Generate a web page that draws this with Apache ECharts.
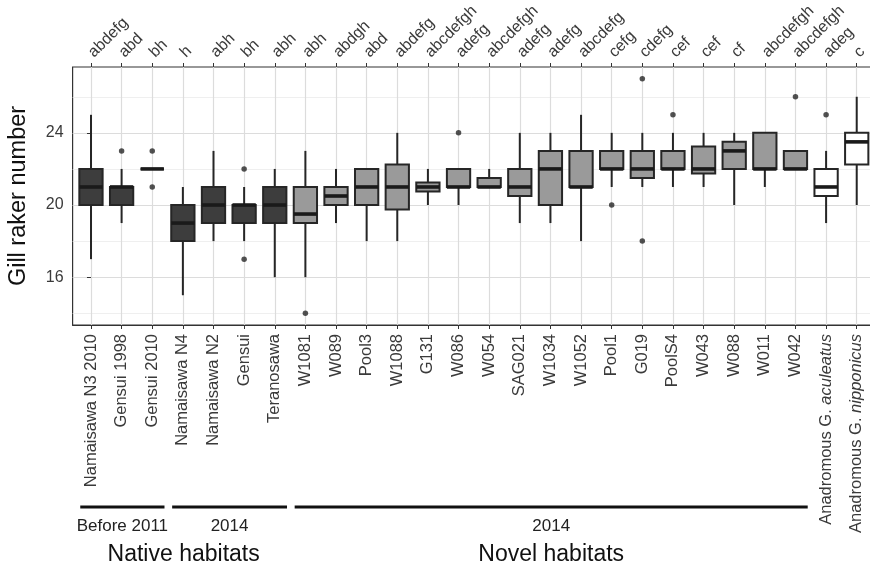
<!DOCTYPE html>
<html>
<head>
<meta charset="utf-8">
<script src="https://cdn.jsdelivr.net/npm/echarts@6/dist/echarts.min.js"></script>
<style>
  html, body { margin: 0; padding: 0; background: #ffffff; }
  #chart { width: 870px; height: 569px; }
</style>
</head>
<body>
<div id="chart"></div>
<script>
// Populations, in plotting order
const categories = [
  'Namaisawa N3 2010', 'Gensui 1998', 'Gensui 2010',
  'Namaisawa N4', 'Namaisawa N2', 'Gensui', 'Teranosawa',
  'W1081', 'W089', 'Pool3', 'W1088', 'G131', 'W086', 'W054', 'SAG021',
  'W1034', 'W1052', 'Pool1', 'G019', 'PoolS4', 'W043', 'W088', 'W011', 'W042',
  'Anadromous G. aculeatus', 'Anadromous G. nipponicus'
];

// Significance groups (letters above each population)
const letterGroups = [
  'abdefg', 'abd', 'bh', 'h', 'abh', 'bh', 'abh', 'abh', 'abdgh', 'abd',
  'abdefg', 'abcdefgh', 'adefg', 'abcdefgh', 'adefg', 'adefg', 'abcdefg',
  'cefg', 'cdefg', 'cef', 'cef', 'cf', 'abcdefgh', 'abcdefgh', 'adeg', 'c'
];

// Habitat type of each population
const habitat = [
  'native', 'native', 'native', 'native', 'native', 'native', 'native',
  'novel', 'novel', 'novel', 'novel', 'novel', 'novel', 'novel', 'novel', 'novel',
  'novel', 'novel', 'novel', 'novel', 'novel', 'novel', 'novel', 'novel',
  'anadromous', 'anadromous'
];

// Box statistics: gill raker number
const whiskerLow  = [17, 19, 22, 15, 18, 18, 16, 16, 19, 18, 18,    20,    20, 21, 19,   19, 18, 21, 21,   21, 21,    20, 21, 22, 19,   20];
const quartile1   = [20, 20, 22, 18, 19, 19, 19, 19, 20, 20, 19.75, 20.75, 21, 21, 20.5, 20, 21, 22, 21.5, 22, 21.75, 22, 22, 22, 20.5, 22.25];
const medians     = [21, 21, 22, 19, 20, 20, 20, 19.5, 20.5, 21, 21, 21,   21, 21, 21,   22, 21, 22, 22,   22, 22,    23, 22, 22, 21,   23.5];
const quartile3   = [22, 21, 22, 20, 21, 20, 21, 21, 21, 22, 22.25, 21.25, 22, 21.5, 22, 23, 23, 23, 23,   23, 23.25, 23.5, 24, 23, 22, 24];
const whiskerHigh = [25, 22, 22, 21, 23, 21, 22, 23, 22, 22, 24,    22,    22, 22, 24,   24, 25, 24, 24,   24, 24,    24, 24, 23, 23,   26];

// Outlying fish
const outlierIndex = [1, 2, 2, 5, 5, 7, 12, 17, 18, 18, 19, 23, 24];
const outlierValue = [23, 21, 23, 22, 17, 14, 24, 20, 27, 18, 25, 26, 25];

// Y axis ticks
const yTicks = [16, 20, 24];
const yMinorTicks = [14, 18, 22, 26];

// Sampling period / habitat brackets under the axis
const periodLabels = ['Before 2011', '2014', '2014'];
const periodFirst = [0, 3, 7];
const periodLast = [2, 6, 23];
const habitatLabels = ['Native habitats', 'Novel habitats'];
const habitatFirst = [0, 7];
const habitatLast = [6, 23];

const FONT = '"Liberation Sans", Arial, Helvetica, sans-serif';
const INK = '#262626';
const TEXT = '#3a3a3a';
const fillByHabitat = { native: '#3d3d3d', novel: '#9a9a9a', anadromous: '#ffffff' };

const catIdx = categories.map((_, i) => i);
const xMin = -0.6;
const xMax = categories.length - 1 + 0.6;

function categoryLabel(v) {
  const name = categories[Math.round(v)] || '';
  return name.replace(/^(Anadromous G\. )(\w+)$/, '$1{it|$2}');
}

const chart = echarts.init(document.getElementById('chart'), null, { renderer: 'canvas' });

const boxData = catIdx.map(i => [i, whiskerLow[i], quartile1[i], medians[i], quartile3[i], whiskerHigh[i]]);
const outlierData = outlierIndex.map((x, k) => [x, outlierValue[k]]);

function renderBox(params, api) {
  const i = api.value(0);
  const pLo = api.coord([i, api.value(1)]);
  const pQ1 = api.coord([i, api.value(2)]);
  const pMed = api.coord([i, api.value(3)]);
  const pQ3 = api.coord([i, api.value(4)]);
  const pHi = api.coord([i, api.value(5)]);
  const half = api.size([0.76, 0])[0] / 2;
  const fill = fillByHabitat[habitat[i]];
  return {
    type: 'group',
    children: [
      { type: 'line', shape: { x1: pHi[0], y1: pHi[1], x2: pQ3[0], y2: pQ3[1] }, style: { stroke: INK, lineWidth: 2 } },
      { type: 'line', shape: { x1: pQ1[0], y1: pQ1[1], x2: pLo[0], y2: pLo[1] }, style: { stroke: INK, lineWidth: 2 } },
      { type: 'rect', shape: { x: pQ3[0] - half, y: pQ3[1], width: half * 2, height: Math.max(pQ1[1] - pQ3[1], 0) },
        style: { fill: fill, stroke: INK, lineWidth: 2 } },
      { type: 'line', shape: { x1: pMed[0] - half, y1: pMed[1], x2: pMed[0] + half, y2: pMed[1] },
        style: { stroke: '#1a1a1a', lineWidth: 3.6 } }
    ]
  };
}

chart.setOption({
  animation: false,
  backgroundColor: '#ffffff',
  textStyle: { fontFamily: FONT },
  grid: {
    left: 72.6, top: 67, width: 802.5, height: 258,
    show: true, backgroundColor: '#ffffff', borderColor: '#333333', borderWidth: 1.2,
    containLabel: false, outerBoundsMode: 'none'
  },
  xAxis: [
    {
      type: 'value', position: 'bottom', min: xMin, max: xMax,
      axisLine: { show: true, onZero: false, lineStyle: { color: '#333333', width: 1.2 } },
      axisTick: { show: true, customValues: catIdx, length: 4, lineStyle: { color: '#333333', width: 1 } },
      axisLabel: {
        customValues: catIdx, rotate: 90, margin: 9, fontSize: 16.5, color: TEXT, fontFamily: FONT,
        formatter: categoryLabel,
        rich: { it: { fontStyle: 'italic', fontSize: 16.5, color: TEXT, fontFamily: FONT } }
      },
      splitLine: { show: true, lineStyle: { color: '#dcdcdc', width: 1.2 } }
    },
    {
      type: 'value', position: 'top', min: xMin, max: xMax,
      axisLine: { show: false },
      axisTick: { show: true, customValues: catIdx, length: 4, lineStyle: { color: '#333333', width: 1 } },
      axisLabel: {
        customValues: catIdx, rotate: -45, margin: 12, fontSize: 16, color: TEXT, fontFamily: FONT,
        formatter: v => letterGroups[Math.round(v)] || ''
      },
      splitLine: { show: false }
    }
  ],
  yAxis: [
    {
      type: 'value', position: 'left', min: 13.35, max: 27.65,
      axisLine: { show: false },
      axisTick: { show: true, customValues: yTicks, length: 4, lineStyle: { color: '#333333', width: 1 } },
      axisLabel: { customValues: yTicks, margin: 9, fontSize: 16, color: TEXT, fontFamily: FONT },
      splitLine: { show: true, lineStyle: { color: '#dcdcdc', width: 1.2 } },
      name: 'Gill raker number', nameLocation: 'middle', nameGap: 42,
      nameTextStyle: { fontSize: 23.5, color: '#111111', fontFamily: FONT }
    },
    {
      type: 'value', position: 'right', min: 13.35, max: 27.65,
      axisLine: { show: false },
      axisTick: { show: false, customValues: yMinorTicks },
      axisLabel: { show: false, customValues: yMinorTicks },
      splitLine: { show: true, lineStyle: { color: '#ebebeb', width: 0.8 } }
    }
  ],
  series: [
    {
      type: 'custom', name: 'boxes', xAxisIndex: 0, yAxisIndex: 0,
      data: boxData, encode: { x: 0, y: [1, 2, 3, 4, 5] },
      renderItem: renderBox, z: 3
    },
    {
      type: 'scatter', name: 'outliers', xAxisIndex: 0, yAxisIndex: 0,
      data: outlierData, symbol: 'circle', symbolSize: 5.5,
      itemStyle: { color: INK }, z: 4
    }
  ]
});

// Brackets for sampling period and habitat, placed on the category scale
const px = v => chart.convertToPixel({ xAxisIndex: 0 }, v);
const graphics = [];
periodLabels.forEach((label, k) => {
  const x1 = px(periodFirst[k] - 0.35);
  const x2 = px(periodLast[k] + 0.4);
  graphics.push({ type: 'line', shape: { x1: x1, y1: 507, x2: x2, y2: 507 }, style: { stroke: '#111111', lineWidth: 3 } });
  graphics.push({
    type: 'text', x: (x1 + x2) / 2, y: 526,
    style: { text: label, fontSize: 17, fontFamily: FONT, fill: '#222222', align: 'center', verticalAlign: 'middle' }
  });
});
habitatLabels.forEach((label, k) => {
  const x1 = px(habitatFirst[k] - 0.35);
  const x2 = px(habitatLast[k] + 0.4);
  graphics.push({
    type: 'text', x: (x1 + x2) / 2, y: 555,
    style: { text: label, fontSize: 23, fontFamily: FONT, fill: '#111111', align: 'center', verticalAlign: 'middle' }
  });
});
chart.setOption({ graphic: graphics });
</script>
</body>
</html>
